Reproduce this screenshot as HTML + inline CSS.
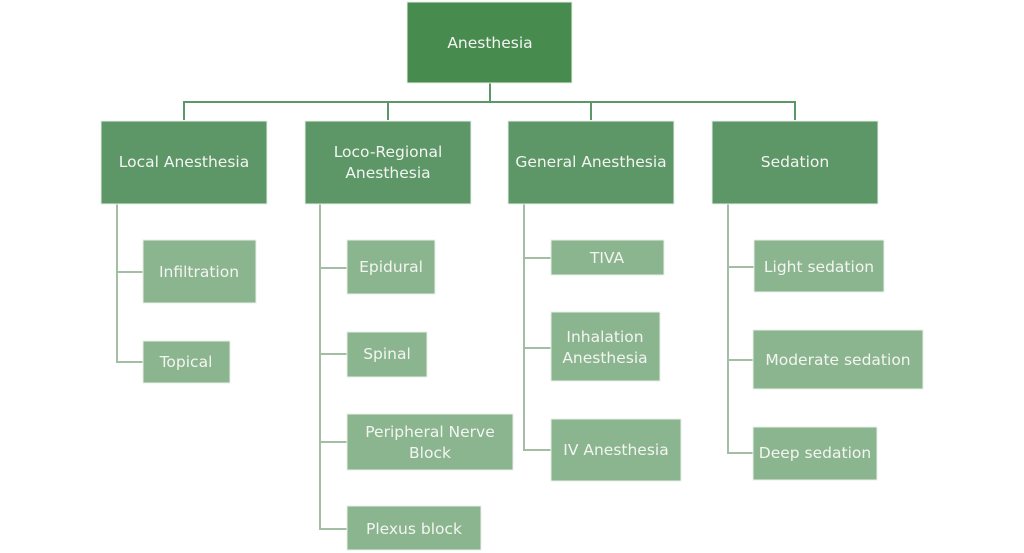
<!DOCTYPE html>
<html>
<head>
<meta charset="utf-8">
<style>
  html, body { margin: 0; padding: 0; background: #ffffff; }
  body { width: 1024px; height: 553px; overflow: hidden; }
  svg { display: block; }
  text { font-family: "DejaVu Sans", "Liberation Sans", sans-serif; font-size: 15.5px; fill: #f3f5f1; }
</style>
</head>
<body>
<svg width="1024" height="553" viewBox="0 0 1024 553" xmlns="http://www.w3.org/2000/svg">
  <!-- top-level connectors -->
  <g stroke="#5d9667" stroke-width="2" fill="none">
    <line x1="490" y1="83" x2="490" y2="102"/>
    <polyline points="184,120 184,102 795,102 795,120"/>
    <line x1="388" y1="102" x2="388" y2="120"/>
    <line x1="591" y1="102" x2="591" y2="120"/>
  </g>
  <!-- child connectors -->
  <g stroke="#a3bea5" stroke-width="2" fill="none">
    <polyline points="117,204 117,362 143,362"/>
    <line x1="117" y1="272" x2="143" y2="272"/>

    <polyline points="320,204 320,529 347,529"/>
    <line x1="320" y1="268" x2="347" y2="268"/>
    <line x1="320" y1="354" x2="347" y2="354"/>
    <line x1="320" y1="442" x2="347" y2="442"/>

    <polyline points="524,204 524,450 551,450"/>
    <line x1="524" y1="258" x2="551" y2="258"/>
    <line x1="524" y1="348" x2="551" y2="348"/>

    <polyline points="728,204 728,453 753,453"/>
    <line x1="728" y1="267" x2="754" y2="267"/>
    <line x1="728" y1="360" x2="753" y2="360"/>
  </g>

  <!-- root -->
  <rect x="407" y="2" width="165" height="81" fill="#488b4f" stroke="#e8f0e8" stroke-width="1"/>
  <text x="490" y="43" text-anchor="middle" dominant-baseline="central">Anesthesia</text>

  <!-- level 1 -->
  <g fill="#5d9667" stroke="#e8f0e8" stroke-width="1">
    <rect x="101" y="121" width="166" height="83"/>
    <rect x="305" y="121" width="166" height="83"/>
    <rect x="508" y="121" width="166" height="83"/>
    <rect x="712" y="121" width="166" height="83"/>
  </g>
  <text x="184" y="162" text-anchor="middle" dominant-baseline="central">Local Anesthesia</text>
  <text x="388" y="152" text-anchor="middle" dominant-baseline="central">Loco-Regional</text>
  <text x="388" y="173" text-anchor="middle" dominant-baseline="central">Anesthesia</text>
  <text x="591" y="162" text-anchor="middle" dominant-baseline="central">General Anesthesia</text>
  <text x="795" y="162" text-anchor="middle" dominant-baseline="central">Sedation</text>

  <!-- level 2 -->
  <g fill="#8bb58f" stroke="#e8f0e8" stroke-width="1">
    <rect x="143" y="240" width="113" height="63"/>
    <rect x="143" y="341" width="87" height="42"/>

    <rect x="347" y="240" width="88" height="54"/>
    <rect x="347" y="332" width="80" height="45"/>
    <rect x="347" y="414" width="166" height="56"/>
    <rect x="347" y="506" width="134" height="44"/>

    <rect x="551" y="240" width="113" height="35"/>
    <rect x="551" y="312" width="109" height="69"/>
    <rect x="551" y="419" width="130" height="62"/>

    <rect x="754" y="240" width="130" height="52"/>
    <rect x="753" y="330" width="170" height="59"/>
    <rect x="753" y="427" width="124" height="53"/>
  </g>
  <text x="199" y="272" text-anchor="middle" dominant-baseline="central">Infiltration</text>
  <text x="186" y="362" text-anchor="middle" dominant-baseline="central">Topical</text>

  <text x="391" y="267" text-anchor="middle" dominant-baseline="central">Epidural</text>
  <text x="387" y="354" text-anchor="middle" dominant-baseline="central">Spinal</text>
  <text x="430" y="432" text-anchor="middle" dominant-baseline="central">Peripheral Nerve</text>
  <text x="430" y="453" text-anchor="middle" dominant-baseline="central">Block</text>
  <text x="414" y="529" text-anchor="middle" dominant-baseline="central">Plexus block</text>

  <text x="607" y="258" text-anchor="middle" dominant-baseline="central">TIVA</text>
  <text x="605" y="337" text-anchor="middle" dominant-baseline="central">Inhalation</text>
  <text x="605" y="358" text-anchor="middle" dominant-baseline="central">Anesthesia</text>
  <text x="616" y="450" text-anchor="middle" dominant-baseline="central">IV Anesthesia</text>

  <text x="819" y="267" text-anchor="middle" dominant-baseline="central">Light sedation</text>
  <text x="838" y="360" text-anchor="middle" dominant-baseline="central">Moderate sedation</text>
  <text x="815" y="453" text-anchor="middle" dominant-baseline="central">Deep sedation</text>
</svg>
</body>
</html>
